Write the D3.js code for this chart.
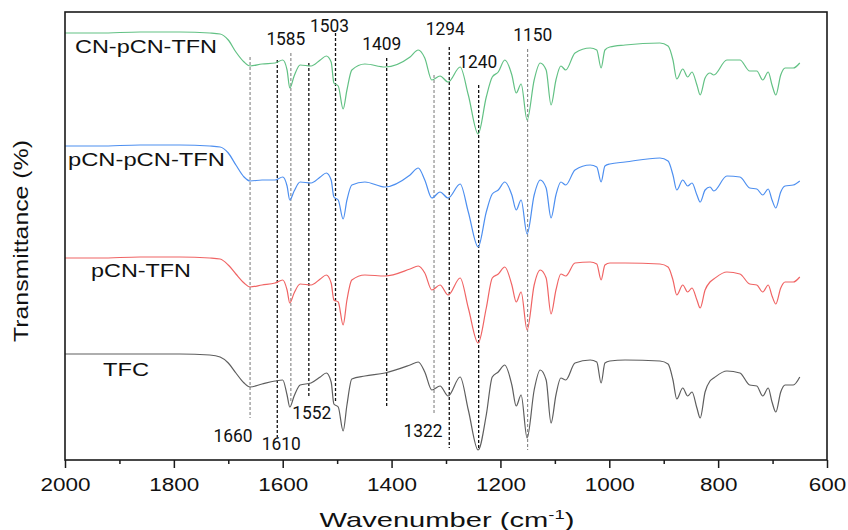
<!DOCTYPE html>
<html>
<head>
<meta charset="utf-8">
<script src="https://cdn.jsdelivr.net/npm/d3@7"></script>
<style>
  html, body { margin: 0; padding: 0; background: #fff; }
  svg { display: block; }
</style>
</head>
<body>
<svg id="chart" width="848" height="530"></svg>
<script>
// ---- data (transmittance in arbitrary units, spectra stacked) ----
const wavenumbers = [2000,1936,1862,1789,1734,1715,1700,1686,1671,1660,
  1638,1614,1600,1592,1587,1579,1568,1548,1531,1520,
  1511,1506,1498,1489,1482,1473,1449,1412,1366,1351,
  1339,1326,1311,1296,1274,1259,1241,1226,1215,1204,
  1192,1179,1171,1162,1151,1138,1127,1116,1107,1098,
  1089,1080,1063,1035,1023,1015,1008,999,971,907,
  892,883,876,865,856,848,839,833,824,815,
  808,784,760,742,729,718,708,701,694,685,
  677,662,650];

const seriesNames = ["CN-pCN-TFN", "pCN-pCN-TFN", "pCN-TFN", "TFC"];

const cnPcnTfn = [427,427,428,428,427,426,420,408,398,394,
  396,397,400,390,372,384,395,394,400,404,
  398,377,374,351,370,390,396,393,403,410,
  402,380,384,378,393,365,326,363,383,388,
  400,385,367,376,340,380,397,390,355,380,
  394,390,407,412,410,392,410,413,415,417,
  414,400,381,391,383,388,375,365,382,387,
  385,400,400,389,389,380,388,375,365,385,
  392,392,397];

const pcnPcnTfn = [314,314,315,315,314,313,307,295,283,279,
  280,280,283,274,260,269,278,277,283,287,
  280,263,260,241,260,275,278,273,285,292,
  280,262,268,262,276,248,213,248,266,270,
  278,265,250,260,226,265,280,272,242,265,
  278,275,290,295,293,278,294,296,298,302,
  299,285,270,280,274,277,265,258,270,273,
  269,284,283,272,271,265,271,260,252,268,
  274,275,279];

const pcnTfn = [202,202,203,203,202,201,195,186,177,173,
  175,177,180,170,157,167,176,175,181,185,
  177,160,158,135,160,180,185,184,191,194,
  187,170,175,165,182,152,117,152,182,186,
  193,175,158,168,130,175,190,182,146,170,
  186,184,197,198,196,180,195,197,197,196,
  193,180,165,175,168,172,160,152,170,178,
  181,188,186,176,175,168,175,164,156,172,
  178,178,183];

const tfc = [106,106,106,106,105,103,97,87,77,73,
  76,79,80,65,53,64,75,77,83,87,
  78,56,53,29,55,81,84,87,95,98,
  88,70,74,64,83,50,10,45,83,88,
  95,75,54,65,22,70,90,80,37,65,
  82,80,97,100,98,77,97,99,100,99,
  96,80,61,72,64,68,52,42,68,79,
  82,89,87,75,74,64,72,58,48,68,
  75,75,83];

// peak markers: wavenumber, and the upper / lower ends of each dashed line (same units as the spectra)
const peakWavenumbers = [1660, 1610, 1585, 1552, 1503, 1409, 1322, 1294, 1240, 1150];
const peakLineTop     = [403, 400, 407, 397, 427, 402, 385, 413, 375, 411];
const peakLineBottom  = [42, 23, 57, 63, 57, 53, 45, 12, 10, 10];

const xTicks = [2000, 1800, 1600, 1400, 1200, 1000, 800, 600];
const xMinorTicks = [1900, 1700, 1500, 1300, 1100, 900, 700];

// ---- layout / style ----
const W = 848, H = 530;
const plot = { left: 65, right: 827, top: 12, bottom: 460 };
const colors = ["#62c184", "#4d8ff0", "#f06464", "#5e5e5e"];
const seriesValues = [cnPcnTfn, pcnPcnTfn, pcnTfn, tfc];
// label placement for the series names: [x, baseline, width]
const seriesLabelPos = [[75, 53, 142], [68, 166, 157], [91, 277, 100], [103, 376, 46]];
// label placement for peak numbers: [centre x offset from line, baseline y]
const peakLabelPos = [[-17, 442], [4, 450], [-5, 45], [3, 419], [-6, 32], [-5, 50], [-11, 437], [-4, 35], [-1, 68], [5, 41]];
const peakLight = [true, false, true, false, false, false, true, false, false, true];

const svg = d3.select("#chart");

const x = d3.scaleLinear().domain([2000, 600]).range([plot.left, plot.right]);
const y = d3.scaleLinear().domain([0, 448]).range([plot.bottom, plot.top]);

// dashed peak lines (behind the spectra)
const gPeaks = svg.append("g");
peakWavenumbers.forEach((wn, i) => {
  gPeaks.append("line")
    .attr("x1", x(wn)).attr("x2", x(wn))
    .attr("y1", y(peakLineTop[i])).attr("y2", y(peakLineBottom[i]))
    .attr("stroke", peakLight[i] ? "#666" : "#111")
    .attr("stroke-width", peakLight[i] ? 0.9 : 1.3)
    .attr("stroke-dasharray", "3,2");
});

// spectra
const line = d3.line()
  .x((d, i) => x(wavenumbers[i]))
  .y(d => y(d))
  .curve(d3.curveMonotoneX);

seriesValues.forEach((vals, k) => {
  svg.append("path")
    .datum(vals)
    .attr("fill", "none")
    .attr("stroke", colors[k])
    .attr("stroke-width", 1.2)
    .attr("d", line);
});

// peak labels
peakWavenumbers.forEach((wn, i) => {
  svg.append("text")
    .attr("x", x(wn) + peakLabelPos[i][0])
    .attr("y", peakLabelPos[i][1])
    .attr("text-anchor", "middle")
    .attr("font-family", "Roboto, 'Liberation Sans', Arial, sans-serif")
    .attr("font-size", 17.5)
    .attr("fill", "#111")
    .attr("textLength", 39)
    .attr("lengthAdjust", "spacingAndGlyphs")
    .text(wn);
});

// series labels
seriesNames.forEach((name, k) => {
  svg.append("text")
    .attr("x", seriesLabelPos[k][0])
    .attr("y", seriesLabelPos[k][1])
    .attr("font-family", "'Liberation Sans', Arial, sans-serif")
    .attr("font-size", 19)
    .attr("fill", "#111")
    .attr("textLength", seriesLabelPos[k][2])
    .attr("lengthAdjust", "spacingAndGlyphs")
    .text(name);
});

// frame
svg.append("rect")
  .attr("x", plot.left).attr("y", plot.top)
  .attr("width", plot.right - plot.left)
  .attr("height", plot.bottom - plot.top)
  .attr("fill", "none")
  .attr("stroke", "#1a1a1a")
  .attr("stroke-width", 1.6);

// x axis (major)
const gx = svg.append("g")
  .attr("transform", `translate(0,${plot.bottom})`)
  .call(d3.axisBottom(x).tickValues(xTicks).tickSize(8).tickPadding(10).tickFormat(d3.format("d")));
gx.select(".domain").remove();
gx.selectAll(".tick line").attr("stroke", "#1a1a1a").attr("stroke-width", 1.5);
gx.selectAll(".tick text")
  .attr("font-family", "'Liberation Sans', Arial, sans-serif")
  .attr("font-size", 18)
  .attr("fill", "#111")
  .attr("textLength", d => String(d).length * 12.5)
  .attr("lengthAdjust", "spacingAndGlyphs");

// x axis (minor)
const gxm = svg.append("g")
  .attr("transform", `translate(0,${plot.bottom})`)
  .call(d3.axisBottom(x).tickValues(xMinorTicks).tickSize(4).tickFormat(""));
gxm.select(".domain").remove();
gxm.selectAll(".tick line").attr("stroke", "#1a1a1a").attr("stroke-width", 1.5);

// axis titles
function stretch(sel, target) {
  const w = sel.node().getBBox().width;
  return target / w;
}
const xt = svg.append("g");
const xtText = xt.append("text")
  .attr("text-anchor", "middle")
  .attr("font-family", "'Liberation Sans', Arial, sans-serif")
  .attr("font-size", 20.5)
  .attr("fill", "#111");
xtText.append("tspan").text("Wavenumber (cm");
xtText.append("tspan").attr("font-size", 13).attr("dy", -8).text("-1");
xtText.append("tspan").attr("dy", 8).text(")");
xt.attr("transform", `translate(447,527) scale(${stretch(xt, 255)},1)`);

const yt = svg.append("g");
yt.append("text")
  .attr("text-anchor", "middle")
  .attr("font-family", "'Liberation Sans', Arial, sans-serif")
  .attr("font-size", 20.5)
  .attr("fill", "#111")
  .text("Transmittance (%)");
yt.attr("transform", `translate(28,241) rotate(-90) scale(${stretch(yt, 202)},1)`);
</script>
</body>
</html>
